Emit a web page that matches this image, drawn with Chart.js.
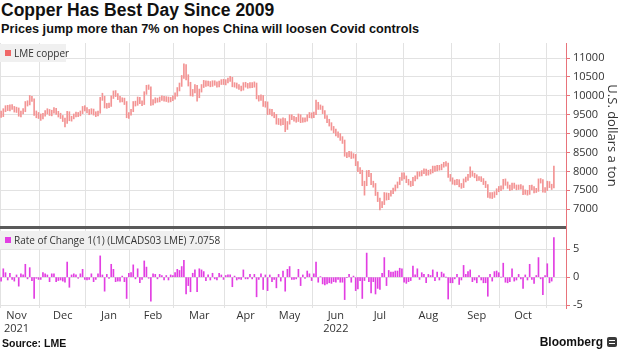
<!DOCTYPE html>
<html>
<head>
<meta charset="utf-8">
<script src="https://cdn.jsdelivr.net/npm/chart.js@4.4.0/dist/chart.umd.min.js"></script>
<style>
  body { margin: 0; width: 620px; height: 350px; background: #fff; position: relative; overflow: hidden;
         font-family: "Liberation Sans", Arial, sans-serif; color: #111; }
  #title { position: absolute; left: 1px; top: 0px; font-size: 17.5px; font-weight: bold; }
  #subtitle { position: absolute; left: 1px; top: 22px; font-size: 12.7px; font-weight: bold; }
  /* canvases start 8px above their plot areas (label half height + padding) */
  #priceChart { position: absolute; left: 0; top: 35px; }
  #rocChart { position: absolute; left: 0; top: 221px; }
  #sep { position: absolute; left: 0; top: 226px; width: 566px; height: 3px; background: #5a5a5a; }
  .lg { position: absolute; left: 0; height: 18px; line-height: 18px; background: #f0f0f0; color: #333; white-space: nowrap;
        font-family: "Open Sans", sans-serif; font-size: 10px; padding-left: 14px; box-sizing: border-box; }
  .lg i { position: absolute; left: 5px; top: 6px; width: 6px; height: 6px; }
  #source { position: absolute; left: 2px; top: 337px; font-size: 10.5px; font-weight: bold; }
  #brand { position: absolute; right: 17px; top: 335px; font-size: 12px; font-weight: bold; }
  #logo { position: absolute; left: 607px; top: 337px; width: 10px; height: 10px; background: #3a3a3a; border-radius: 2px; }
  #logo b { position: absolute; left: 2px; top: 3px; width: 6px; height: 1px; background: #fff; box-shadow: 0 3px 0 #fff; }
</style>
</head>
<body>
<div id="title">Copper Has Best Day Since 2009</div>
<div id="subtitle">Prices jump more than 7% on hopes China will loosen Covid controls</div>
<canvas id="priceChart" width="620" height="201"></canvas>
<canvas id="rocChart" width="620" height="117"></canvas>
<div id="sep"></div>
<div class="lg" style="top:44px;width:66px"><i style="background:#f06868"></i>LME copper</div>
<div class="lg" style="top:231px;width:210px"><i style="background:#e23ee2"></i>Rate of Change 1(1) (LMCADS03 LME) 7.0758</div>
<div id="source">Source: LME</div>
<div id="brand">Bloomberg</div>
<div id="logo"><b></b></div>
<script>
// Months on the axis (trading days per month, Nov 2021 starts a few days in)
const monthNames = ['Nov', 'Dec', 'Jan', 'Feb', 'Mar', 'Apr', 'May', 'Jun', 'Jul', 'Aug', 'Sep', 'Oct', 'Nov'];
const monthYears = ['2021', '', '', '', '', '', '', '2022', '', '', '', '', ''];
const tradingDays = [18, 21, 20, 20, 23, 19, 21, 20, 21, 22, 22, 21, 4];
const fullMonthDays = [22, 21, 20, 20, 23, 19, 21, 20, 21, 22, 22, 21, 21];
const emptySlots = 5;

// Axis ticks
const priceTicks = [7000, 7500, 8000, 8500, 9000, 9500, 10000, 10500, 11000];
const rocTicks = [-5, 0, 5];

// LME copper daily high / low, USD a ton
const highs = [
  9600, 9660, 9740, 9750, 9760, 9770, 9720, 9700, 9680, 9600, 9660, 9850, 9870, 10010, 9990, 9920, 9600, 9560,
  9520, 9540, 9610, 9660, 9640, 9620, 9690, 9670, 9590, 9540, 9480, 9410, 9590, 9580, 9460, 9520, 9570, 9560, 9600, 9720, 9740,
  9690, 9640, 9660, 9650, 9580, 9600, 9960, 10070, 9990, 9800, 9810, 10000, 10130, 10140, 10060, 9990, 9950, 9940, 9850, 9560,
  9640, 9850, 9860, 9970, 9960, 9870, 10110, 10280, 10290, 10240, 9900, 9950, 9940, 9970, 10000, 9990, 9980, 9970, 9960, 10000,
  10080, 10220, 10340, 10540, 10850, 10830, 10560, 10360, 10170, 10300, 10280, 10180, 10300, 10410, 10400, 10390, 10380, 10400, 10400, 10370, 10390, 10430, 10440,
  10430, 10470, 10520, 10490, 10350, 10340, 10300, 10260, 10350, 10360, 10330, 10350, 10350, 10370, 10340, 10010, 10030, 10010, 9850,
  9840, 9650, 9640, 9560, 9510, 9400, 9390, 9420, 9400, 9320, 9500, 9500, 9460, 9430, 9520, 9500, 9420, 9420, 9500, 9560, 9550,
  9570, 9890, 9830, 9760, 9730, 9610, 9480, 9380, 9290, 9190, 9120, 9050, 9000, 8920, 8830, 8500, 8530, 8520, 8470, 8450,
  8260, 8100, 8030, 7740, 8020, 8030, 7950, 7740, 7680, 7450, 7290, 7200, 7440, 7430, 7420, 7490, 7560, 7640, 7720, 7840, 7960,
  7960, 7880, 7790, 7740, 7840, 7880, 7990, 7990, 8020, 8070, 8060, 8030, 8050, 8140, 8140, 8160, 8160, 8190, 8240, 8260, 8220, 7920,
  7830, 7770, 7790, 7780, 7680, 7800, 7850, 7920, 8120, 8010, 7950, 7910, 7860, 7860, 7810, 7740, 7650, 7440, 7440, 7460, 7540, 7600,
  7620, 7790, 7800, 7720, 7640, 7690, 7690, 7640, 7640, 7650, 7620, 7510, 7500, 7630, 7640, 7600, 7550, 7800, 7810, 7780, 7570,
  7740, 7730, 7660, 8140
];
const lows = [
  9430, 9450, 9580, 9610, 9600, 9640, 9570, 9560, 9460, 9440, 9520, 9580, 9730, 9760, 9850, 9480, 9420, 9400,
  9350, 9390, 9460, 9520, 9480, 9470, 9540, 9510, 9440, 9400, 9320, 9180, 9270, 9340, 9330, 9390, 9440, 9450, 9470, 9530, 9600,
  9550, 9500, 9520, 9490, 9450, 9470, 9540, 9880, 9680, 9670, 9690, 9720, 9930, 9980, 9900, 9830, 9840, 9770, 9420, 9400,
  9490, 9580, 9730, 9750, 9790, 9740, 9770, 10040, 10170, 9750, 9760, 9810, 9830, 9840, 9880, 9860, 9850, 9830, 9840, 9870,
  9910, 9990, 10130, 10250, 10460, 10420, 10260, 10000, 9990, 10080, 9860, 9950, 10100, 10220, 10250, 10260, 10240, 10250, 10280, 10230, 10240, 10300, 10300,
  10290, 10340, 10380, 10240, 10230, 10200, 10170, 10130, 10150, 10230, 10200, 10210, 10220, 10230, 9920, 9860, 9880, 9720, 9700,
  9500, 9510, 9470, 9420, 9250, 9240, 9220, 9240, 9050, 9110, 9250, 9370, 9330, 9300, 9320, 9290, 9300, 9310, 9330, 9420, 9410,
  9420, 9500, 9640, 9640, 9530, 9400, 9290, 9200, 9090, 9020, 8940, 8900, 8820, 8740, 8400, 8360, 8380, 8340, 8350, 8150,
  7990, 7940, 7620, 7370, 7620, 7860, 7650, 7580, 7360, 7200, 6980, 7040, 7120, 7240, 7250, 7340, 7410, 7480, 7560, 7650, 7760,
  7800, 7700, 7640, 7600, 7620, 7750, 7800, 7870, 7880, 7940, 7890, 7900, 7930, 7960, 8000, 8010, 8030, 8040, 8110, 8140, 7840, 7740,
  7660, 7640, 7650, 7590, 7550, 7570, 7720, 7760, 7840, 7870, 7830, 7750, 7760, 7730, 7650, 7570, 7310, 7290, 7280, 7310, 7380, 7460,
  7490, 7530, 7630, 7550, 7490, 7510, 7550, 7510, 7520, 7530, 7380, 7390, 7370, 7390, 7510, 7430, 7440, 7470, 7690, 7450, 7440,
  7490, 7570, 7520, 7560
];
// Rate of change, % day on day
const roc = [
  -0.7, 1.5, 0.8, -0.5, 0.7, -0.4, -0.7, 0.4, -1.6, 0.6, 0.4, 2.3, -0.3, 1.7, -0.6, -3.8, -0.2, -0.4,
  -0.4, 0.8, 0.6, 0.4, -0.8, 0.6, 0.6, -0.8, -0.6, -0.5, -0.7, -0.9, 2.7, -1.8, 0.4, 0.6, 0.4, -0.2, 0.6, 1.4, -0.4,
  -0.5, -0.4, 0.6, -0.8, -0.4, 0.6, 3.8, 0.4, -2.5, 0.5, -0.2, 2.3, 1.4, -0.8, -0.7, -0.7, 0.2, -0.8, -3.8, 0.7,
  0.8, 2.2, -0.3, 1.5, -1.0, -0.4, 2.9, 1.8, -0.2, -4.3, 0.6, 0.5, -0.3, 0.5, 0.3, -0.5, 0.3, -0.5, 0.4, 0.3,
  0.8, 1.4, 1.2, 1.9, 3.0, -3.0, -1.5, -2.6, 0.7, 1.3, -2.6, 1.5, 1.3, 1.0, -0.6, 0.4, -0.5, 0.7, -0.3, -0.5, 0.7, 0.4, -0.4,
  0.3, 0.4, 0.4, -1.7, 0.2, -0.5, -0.3, -0.4, 1.3, -0.3, -0.3, 0.5, -0.3, 0.5, -3.5, -0.4, 0.6, -2.2, 0.4,
  -2.4, 0.4, -0.8, -0.4, -1.9, 0.5, -0.7, 1.1, -2.5, 1.4, 1.9, -0.4, -0.4, -0.3, 1.4, -1.5, 0.4, -0.2, 1.1, 0.6, -0.6,
  0.6, 2.7, -0.9, 0.1, -1.2, -1.4, -1.2, -1.0, -1.1, -0.8, -0.9, -0.4, -0.9, -0.9, -4.0, -0.1, 0.5, -0.9, 0.2, -2.4,
  -2.1, -0.6, -3.8, -0.6, 4.3, -0.8, -2.8, -0.8, -3.0, -2.0, -2.2, 0.7, 3.5, -1.5, 1.2, 0.9, 0.9, 1.1, 1.1, 1.6, 1.5,
  -0.9, -1.1, -0.8, -0.6, 2.0, 0.4, 1.5, -0.4, 0.8, 0.5, -1.0, 0.5, 0.3, 1.3, -0.6, 0.9, -0.5, 0.9, 0.6, 0.0, -3.9, -1.0,
  -1.0, -0.3, 0.5, -1.3, -0.5, 2.1, 0.5, 1.0, 1.3, -0.8, -0.5, -1.0, 0.3, -0.5, -1.0, -1.0, -3.4, 0.5, -0.7, 1.0, 1.1, 0.8,
  0.0, 2.5, -0.9, -1.0, -0.8, 1.5, -0.7, -0.5, 0.5, -0.3, -2.0, 0.4, -0.5, 2.3, -0.4, -1.1, 0.3, 3.5, -0.3, -3.1, 0.3,
  2.4, -1.0, -0.7, 7.0758
];

// Build one category per trading day, remember month starts and label spots
const labels = [];
const monthStarts = [];
const monthLabelAt = {};
tradingDays.forEach((n, m) => {
    const start = labels.length;
    monthStarts.push(start);
    if (m < monthNames.length - 1) {
        const lead = fullMonthDays[m] - n;
        monthLabelAt[start - lead + Math.floor(fullMonthDays[m] / 2)] = m;
    }
    for (let d = 0; d < n; d++) labels.push(monthNames[m] + ' ' + (d + 1));
});
for (let k = 0; k < emptySlots; k++) labels.push('');

const axisRed = '#e8737a';
const gridGrey = '#e2e2e2';
const textColor = '#333';
const tickFont = { family: "'Open Sans', sans-serif", size: 11, lineHeight: '10px' };

const monthGrid = (ctx) => monthStarts.includes(ctx.index) ? gridGrey : 'transparent';

// right hand value axis shared by both panels
function rightAxis(min, max, tickValues) {
    return {
        position: 'right',
        min: min,
        max: max,
        afterFit: (s) => { s.width = 54; },
        afterBuildTicks: (s) => { s.ticks = tickValues.map(v => ({ value: v })); },
        ticks: {
            autoSkip: false,
            color: textColor,
            font: tickFont,
            padding: 3,
            callback: (v) => String(v)
        },
        grid: { color: gridGrey, tickColor: axisRed, tickLength: 4 },
        border: { color: axisRed }
    };
}

const priceAxis = rightAxis(6500, 11400, priceTicks);
priceAxis.title = {
    display: true,
    text: 'U.S. dollars a ton',
    color: textColor,
    font: { family: "'Open Sans', sans-serif", size: 13 },
    padding: { top: 0, bottom: 0 }
};

// Top panel: price bars (low to high)
new Chart(document.getElementById('priceChart'), {
    type: 'bar',
    data: {
        labels: labels,
        datasets: [{
            data: lows.map((lo, i) => [lo, highs[i]]),
            backgroundColor: '#f39494',
            borderWidth: 0,
            barThickness: 1
        }]
    },
    options: {
        responsive: false,
        animation: false,
        layout: { padding: 0 },
        plugins: { legend: { display: false }, tooltip: { enabled: false } },
        scales: {
            x: {
                ticks: { display: false },
                grid: { color: monthGrid, drawTicks: false },
                border: { display: false }
            },
            y: priceAxis
        }
    }
});

// Bottom panel: rate of change
new Chart(document.getElementById('rocChart'), {
    type: 'bar',
    data: {
        labels: labels,
        datasets: [{
            data: roc,
            backgroundColor: '#e23ee2',
            borderWidth: 0,
            barThickness: 1
        }]
    },
    options: {
        responsive: false,
        animation: false,
        layout: { padding: 0 },
        plugins: { legend: { display: false }, tooltip: { enabled: false } },
        scales: {
            x: {
                afterFit: (s) => { s.height = 30; },
                ticks: {
                    autoSkip: false,
                    maxRotation: 0,
                    padding: 1,
                    color: textColor,
                    font: { family: "'Open Sans', sans-serif", size: 11 },
                    callback: (v, i) => {
                        if (!(i in monthLabelAt)) return '';
                        const m = monthLabelAt[i];
                        return monthYears[m] ? [monthNames[m], monthYears[m]] : monthNames[m];
                    }
                },
                grid: { color: monthGrid, drawTicks: false },
                border: { display: false }
            },
            y: rightAxis(-5.5, 8.6, rocTicks)
        }
    }
});
</script>
</body>
</html>
